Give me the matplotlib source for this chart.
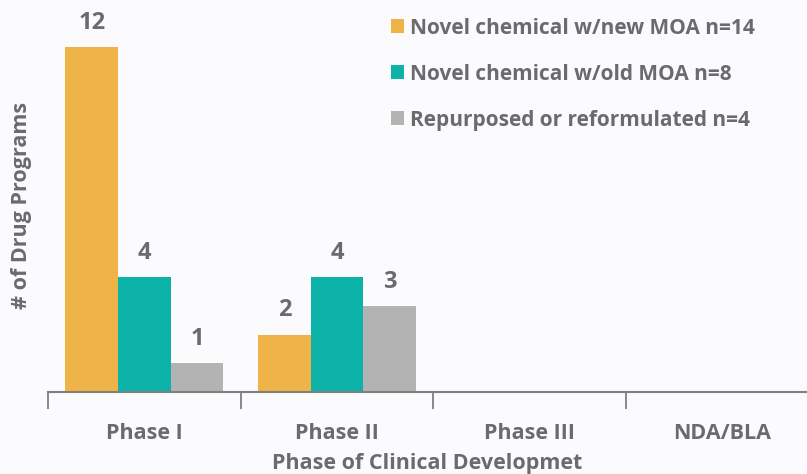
import numpy as np
import matplotlib.pyplot as plt

phases = ['Phase I', 'Phase II', 'Phase III', 'NDA/BLA']
new_moa = [12, 2, 0, 0]
old_moa = [4, 4, 0, 0]
repurposed = [1, 3, 0, 0]
series_names = ['Novel chemical w/new MOA n=14',
                'Novel chemical w/old MOA n=8',
                'Repurposed or reformulated n=4']
colors = ['#EFB347', '#0DB3A8', '#B3B3B3']
txt = '#6B6B6E'

plt.rcParams['font.family'] = ['Open Sans', 'DejaVu Sans']
plt.rcParams['font.weight'] = 'bold'

fig = plt.figure(figsize=(8.07, 4.74), dpi=100, facecolor='#FBFBFD')
ax = fig.add_axes([48/807, 1 - 392/474, 1 - 48/807, 392/474])
ax.set_facecolor('#FBFBFD')

x = np.arange(len(phases))
w = 0.273
for k, vals in enumerate([new_moa, old_moa, repurposed]):
    pos = x + (k - 1) * w
    ax.bar(pos, vals, w, color=colors[k], label=series_names[k])
    for p, v in zip(pos, vals):
        if v > 0:
            ax.text(p, v + 0.42, str(v), ha='center', va='bottom',
                    fontsize=17, fontweight='bold', color=txt)

ax.set_xlim(-0.5, 3.5 - 12/193)
ax.set_ylim(0, 392/28.75)
for s in ['left', 'top', 'right']:
    ax.spines[s].set_visible(False)
ax.spines['bottom'].set_color('#7F7F7F')
ax.spines['bottom'].set_linewidth(1.5)
ax.set_yticks([])
ax.set_xticks(np.arange(-0.5, 3.5, 1))
ax.set_xticklabels([])
ax.set_xticks(x, minor=True)
ax.set_xticklabels(phases, minor=True, fontsize=15.5, fontweight='bold', color=txt)
ax.tick_params(axis='x', which='major', length=12, width=1.3, color='#7F7F7F')
ax.tick_params(axis='x', which='minor', length=0, pad=22)
ax.set_xlabel('Phase of Clinical Developmet', fontsize=15.5, fontweight='bold',
              color=txt, labelpad=7)
fig.text(22/807, 1 - 205/474, '# of Drug Programs', rotation=90, ha='center',
         va='center', fontsize=15.5, fontweight='bold', color=txt)

leg = ax.legend(loc='upper left', bbox_to_anchor=(375/807, 1 - 2/474),
                bbox_transform=fig.transFigure, frameon=False, fontsize=15,
                handlelength=0.65, handleheight=0.65, handletextpad=0.3,
                labelspacing=1.2, borderaxespad=0.35)
for t in leg.get_texts():
    t.set_color(txt)
    t.set_fontweight('bold')

fig.savefig('out.png', dpi=100, facecolor=fig.get_facecolor())
